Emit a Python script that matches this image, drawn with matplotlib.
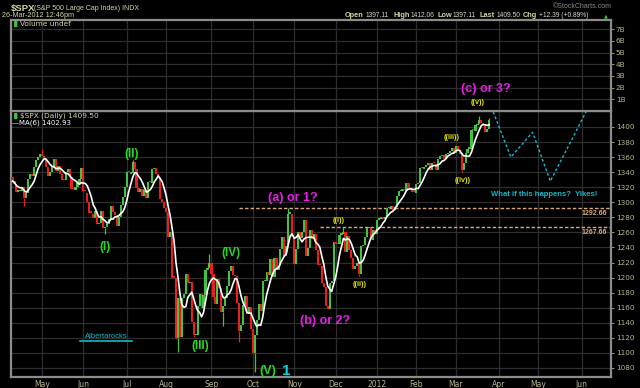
import numpy as np
import pandas as pd
import matplotlib
matplotlib.use("Agg")
import matplotlib.pyplot as plt

# $SPX daily closes, Apr 8 2011 .. Mar 26 2012
prev_close = 1333.51
apr11 = [1328.17, 1324.46, 1314.16, 1314.41, 1314.52, 1319.68, 1305.14, 1312.62, 1330.36, 1337.38,
         1335.25, 1347.24, 1355.66, 1360.48, 1363.61]
may11 = [1361.22, 1356.62, 1347.32, 1335.10, 1340.20, 1346.29, 1357.16, 1342.08, 1348.65, 1337.77,
         1329.47, 1328.98, 1340.68, 1343.60, 1333.27, 1317.37, 1316.28, 1320.47, 1325.69, 1331.10, 1345.20]
jun11 = [1314.55, 1312.94, 1300.16, 1286.17, 1284.94, 1279.56, 1289.00, 1270.98, 1271.83, 1287.87,
         1265.42, 1267.64, 1271.50, 1278.36, 1295.52, 1287.14, 1283.50, 1268.45, 1280.10, 1296.67,
         1307.41, 1320.64]
jul11 = [1339.67, 1337.88, 1339.22, 1353.22, 1343.80, 1319.49, 1313.64, 1317.72, 1308.87, 1316.14,
         1305.44, 1326.73, 1325.84, 1343.80, 1345.02, 1337.43, 1331.94, 1304.89, 1300.67, 1292.28]
aug11 = [1286.94, 1254.05, 1260.34, 1200.07, 1199.38, 1119.46, 1172.53, 1120.76, 1172.64, 1178.81,
         1204.49, 1192.76, 1193.89, 1140.65, 1123.53, 1123.82, 1162.35, 1177.60, 1159.27, 1176.80,
         1210.08, 1212.92, 1218.89]
sep11 = [1204.42, 1173.97, 1165.24, 1198.62, 1185.90, 1154.23, 1162.27, 1172.87, 1188.68, 1209.11,
         1216.01, 1204.09, 1202.09, 1166.76, 1129.56, 1136.43, 1162.95, 1175.38, 1151.06, 1160.40, 1131.42]
oct11 = [1099.23, 1123.95, 1144.03, 1164.97, 1155.46, 1194.89, 1195.54, 1207.25, 1203.66, 1224.58,
         1200.86, 1225.38, 1209.88, 1215.39, 1238.25, 1254.19, 1229.05, 1242.00, 1284.59, 1285.09, 1253.30]
nov11 = [1218.28, 1237.90, 1261.15, 1253.23, 1261.12, 1275.92, 1229.10, 1239.70, 1263.85, 1251.78,
         1257.81, 1236.91, 1216.13, 1215.65, 1192.98, 1188.04, 1161.79, 1158.67, 1192.55, 1195.19, 1246.96]
dec11 = [1244.58, 1244.28, 1257.08, 1258.47, 1261.01, 1234.35, 1255.19, 1236.47, 1225.73, 1211.82,
         1215.75, 1219.66, 1205.35, 1241.30, 1243.72, 1254.00, 1265.33, 1265.43, 1249.64, 1263.02, 1257.60]
jan12 = [1277.06, 1277.30, 1281.06, 1277.81, 1280.70, 1292.08, 1292.48, 1295.50, 1289.09, 1293.67,
         1308.04, 1314.50, 1315.38, 1316.00, 1314.65, 1326.06, 1318.43, 1316.33, 1313.01, 1312.41]
feb12 = [1324.09, 1325.54, 1344.90, 1344.33, 1347.05, 1349.96, 1351.95, 1342.64, 1351.77, 1350.50,
         1343.23, 1358.04, 1361.23, 1362.21, 1357.66, 1363.46, 1365.74, 1367.59, 1372.18, 1365.68]
mar12 = [1374.09, 1369.63, 1364.33, 1343.36, 1352.63, 1365.91, 1370.87, 1371.09, 1395.95, 1394.28,
         1402.60, 1404.17, 1409.75, 1405.52, 1402.89, 1392.78, 1397.11, 1409.50]
closes = apr11 + may11 + jun11 + jul11 + aug11 + sep11 + oct11 + nov11 + dec11 + jan12 + feb12 + mar12

# a few long wicks that stand out
wick_lows = {"2011-04-18": 1294.7, "2011-06-16": 1258.1, "2011-08-08": 1119.0, "2011-08-09": 1101.5,
             "2011-08-19": 1121.0, "2011-09-12": 1136.1, "2011-09-22": 1114.2, "2011-10-04": 1074.8,
             "2011-11-25": 1158.7, "2011-12-19": 1202.4, "2012-03-06": 1340.0}
wick_highs = {"2011-05-02": 1370.6, "2011-07-07": 1356.5, "2011-08-31": 1230.7, "2011-10-27": 1292.7,
              "2011-12-07": 1267.1, "2012-03-19": 1414.0, "2012-03-26": 1412.1}

levels = [1292.66, 1267.66]
level_starts = ["2011-09-22", "2011-11-18"]

# "what if" path
proj_dates = ["2012-03-28", "2012-04-11", "2012-04-26", "2012-05-09", "2012-06-13"]
proj_prices = [1420, 1360, 1393, 1328, 1450]

holidays = ["2011-04-22", "2011-05-30", "2011-07-04", "2011-09-05", "2011-11-24", "2011-12-26",
            "2012-01-02", "2012-01-16", "2012-02-20", "2012-04-06", "2012-05-28"]
days = pd.bdate_range("2011-04-08", "2012-06-29")
days = days[~days.isin(pd.to_datetime(holidays))]

def day_idx(d):
    return int(np.searchsorted(days, pd.Timestamp(d)))

months = ["2011-05-01", "2011-06-01", "2011-07-01", "2011-08-01", "2011-09-01", "2011-10-01",
          "2011-11-01", "2011-12-01", "2012-01-01", "2012-02-01", "2012-03-01", "2012-04-01",
          "2012-05-01", "2012-06-01"]
month_labels = ["May", "Jun", "Jul", "Aug", "Sep", "Oct", "Nov", "Dec", "2012", "Feb", "Mar", "Apr", "May", "Jun"]
month_ticks = [day_idx(m) for m in months]

W, H = 640, 388
BG = "black"
GRID = "#2e2e2e"
EDGE = "#8c8c8c"
KHAKI = "#d6d2a4"
TICK = "#bcb48e"
GREEN = "#42c442"
RED = "#ee1c1c"
MAG = "#e81ee8"
YEL = "#e4e400"
WGREEN = "#27d727"
CYAN = "#16b8c8"
TAN = "#d9a97c"
LIB = "Liberation Sans"

fig = plt.figure(figsize=(W / 100, H / 100), dpi=100, facecolor=BG)

def fp(x, y):
    return x / W, 1 - y / H

ax = fig.add_axes([11 / W, 1 - 377 / H, 600 / W, 266 / H], facecolor=BG)
vax = fig.add_axes([11 / W, 1 - 111 / H, 600 / W, 91 / H], facecolor=BG, sharex=ax)

x = np.arange(len(closes))
c = np.array(closes)
o = np.concatenate([[prev_close], c[:-1]])
up = c >= o
colors = np.where(up, GREEN, RED)

for d, lo in wick_lows.items():
    i = day_idx(d)
    ax.vlines(i, lo, min(o[i], c[i]), color=GREEN if up[i] else RED, lw=0.9, zorder=3)
for d, hi in wick_highs.items():
    i = day_idx(d)
    ax.vlines(i, max(o[i], c[i]), hi, color=GREEN if up[i] else RED, lw=0.9, zorder=3)

body = np.where(np.abs(c - o) < 2, 2, c - o)
ax.bar(x, body, bottom=o, width=1.1, color=colors, linewidth=0, zorder=3)

ma = pd.Series(c).rolling(6, min_periods=1).mean()
ax.plot(x, ma, color="white", lw=1.2, zorder=4)

for lv, st in zip(levels, level_starts):
    ax.hlines(lv, day_idx(st), 303.8, color=TAN, lw=1.0, linestyles=(0, (2.5, 1.5)), zorder=2)

px = [day_idx(d) for d in proj_dates]
ax.plot(px, proj_prices, color=CYAN, lw=1.0, ls=(0, (2, 1.6)), clip_on=False, zorder=6)
ax.plot(px[-1], proj_prices[-1], marker=(3, 0, -20), color=CYAN, ms=6, clip_on=False, zorder=6)

ax.set_xlim(-0.74, 303.8)
ax.set_ylim(1068, 1421.2)
vax.set_ylim(0, 7.78)

for a in (ax, vax):
    a.set_xticks(month_ticks)
    a.grid(True, color=GRID, lw=0.9)
    a.set_axisbelow(True)
    for s in a.spines.values():
        s.set_color(EDGE)
        s.set_linewidth(1.6)
    a.yaxis.tick_right()
    a.tick_params(axis="y", colors=TICK, labelsize=5.2, length=2, pad=1.5, width=0.6)

ax.set_xticklabels(month_labels)
ax.tick_params(axis="x", colors=TICK, labelsize=5.5, length=0, pad=2.5)
vax.tick_params(axis="x", labelbottom=False, length=0)

ax.set_yticks(np.arange(1080, 1401, 20))
vax.set_yticks(np.arange(1, 8))
vax.set_yticklabels([f"{v}B" for v in range(1, 8)])

# header
fig.text(*fp(11, 8), "$SPX", color=KHAKI, fontsize=6.8, fontfamily=LIB, fontweight="bold", va="center")
fig.text(*fp(34, 8.5), "(S&P 500 Large Cap Index) INDX", color=KHAKI, fontsize=5, fontfamily=LIB, va="center")
fig.text(*fp(2, 15.5), "26-Mar-2012 12:46pm", color=KHAKI, fontsize=5.2, fontfamily=LIB, va="center")
fig.text(*fp(612, 7), "\u00a9StockCharts.com", color="#8a8a8a", fontsize=5, fontfamily=LIB,
         va="center", ha="right")
hdr = [(345, "Open", True), (366, "1397.11", False), (393, "High", True), (411, "1412.06", False),
       (437, "Low", True), (453, "1397.11", False), (479, "Last", True), (497, "1409.50", False),
       (523, "Chg", True), (539, "+12.39 (+0.89%)", False)]
for hx, t, b in hdr:
    fig.text(*fp(hx, 15.5), t, color=KHAKI if b else "#d8d8c8", fontsize=5.3 if b else 4.8,
             fontfamily=LIB, fontweight="bold" if b else "normal", va="center")
fig.text(*fp(606, 15.5), "\u25b2", color=GREEN, fontsize=3.5, va="center", ha="center")

fig.text(*fp(20, 24), "Volume undef", color=KHAKI, fontsize=5.3, va="center")
fig.text(*fp(12, 24), "\u2590\u258c", color=GREEN, fontsize=4, va="center")
fig.text(*fp(20, 116), "$SPX (Daily) 1409.50", color=KHAKI, fontsize=5.3, va="center")
fig.text(*fp(12, 116), "\u2590\u258c", color=GREEN, fontsize=4, va="center")
fig.text(*fp(12, 123), "\u2014", color="white", fontsize=5, va="center")
fig.text(*fp(19, 123), "MA(6) 1402.93", color="white", fontsize=5, va="center")

# wave labels
lab = dict(fontfamily=LIB, fontweight="bold", ha="center", va="center")
fig.text(*fp(486, 89), "(c) or 3?", color=MAG, fontsize=9, **lab)
fig.text(*fp(293, 198), "(a) or 1?", color=MAG, fontsize=9, **lab)
fig.text(*fp(325, 321), "(b) or 2?", color=MAG, fontsize=9, **lab)
fig.text(*fp(132, 154), "(II)", color=WGREEN, fontsize=8.5, **lab)
fig.text(*fp(105, 247), "(I)", color=WGREEN, fontsize=8.5, **lab)
fig.text(*fp(200, 346), "(III)", color=WGREEN, fontsize=8.5, **lab)
fig.text(*fp(231, 253), "(IV)", color=WGREEN, fontsize=8.5, **lab)
fig.text(*fp(268, 371), "(V)", color=WGREEN, fontsize=9, **lab)
fig.text(*fp(286, 371), "1", color="#10d0e0", fontsize=11, **lab)
fig.text(*fp(478, 103), "((v))", color=YEL, fontsize=5.2, **lab)
fig.text(*fp(339, 221), "((i))", color=YEL, fontsize=5.2, **lab)
fig.text(*fp(360, 284), "((ii))", color=YEL, fontsize=5.2, **lab)
fig.text(*fp(452, 137), "((iii))", color=YEL, fontsize=5.2, **lab)
fig.text(*fp(463, 181), "((iv))", color=YEL, fontsize=5.2, **lab)
fig.text(*fp(544, 194), "What if this happens?  Yikes!", color=CYAN, fontsize=5.5, **lab)
fig.text(*fp(607, 213.5), "1292.66", color=TAN, fontsize=5, fontfamily=LIB,
         fontweight="bold", ha="right", va="center")
fig.text(*fp(607, 232.5), "1267.66", color=TAN, fontsize=5, fontfamily=LIB,
         fontweight="bold", ha="right", va="center")
fig.text(*fp(106, 337), "Albertarocks", color=CYAN, fontsize=5.5, fontfamily=LIB,
         ha="center", va="center")
fig.add_artist(plt.Line2D([80 / W, 132 / W], [1 - 341 / H, 1 - 341 / H], color=CYAN, lw=1.2))

fig.savefig("out.png", dpi=100, facecolor=BG)
